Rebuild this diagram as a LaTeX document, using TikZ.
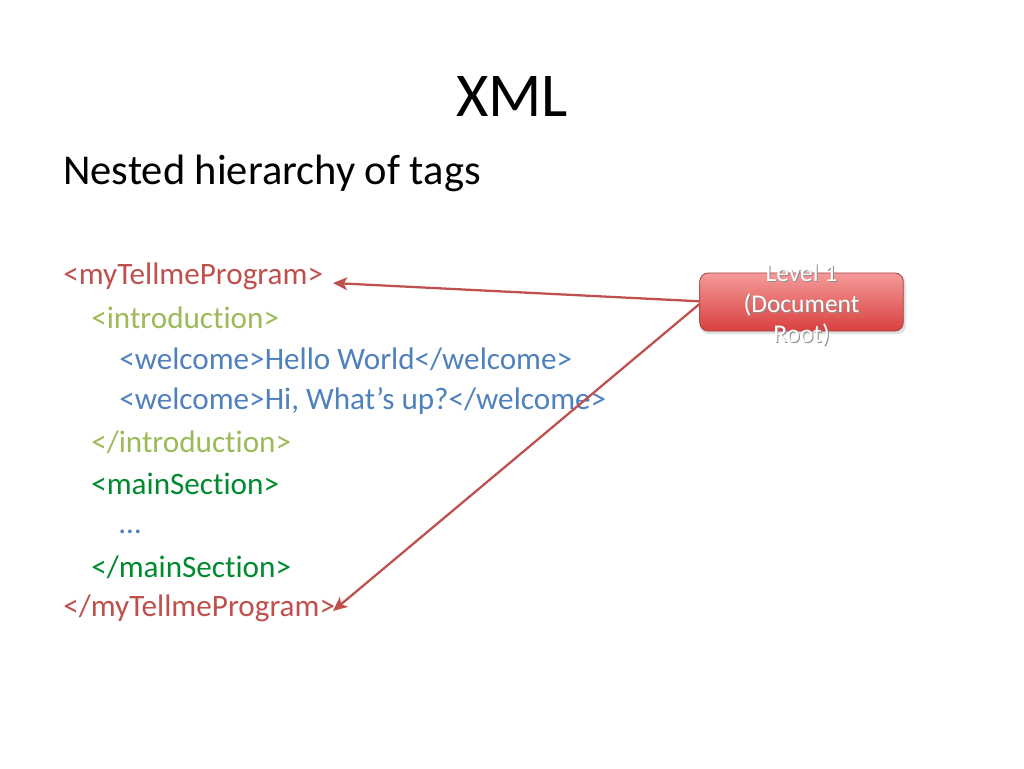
\documentclass[tikz,border=0pt]{standalone}
\usepackage{fontspec}
\setmainfont{Carlito}[Ligatures = NoCommon]
\usepackage{xcolor}
\usepackage{tikz}
\usetikzlibrary{arrows.meta}
\definecolor{tagRed}{HTML}{C0504D}
\definecolor{tagOlive}{HTML}{9BBB59}
\definecolor{tagBlue}{HTML}{4F81BD}
\definecolor{tagGreen}{HTML}{008A2E}
\definecolor{boxTop}{HTML}{F49B9A}
\definecolor{boxBottom}{HTML}{D8403E}
\newcommand{\codeLine}[5]{
	\node[anchor = west, inner sep = 0pt, text = #2, font = \fontsize{22}{27}\selectfont] (#1) at (#3, #4) {#5};
}
\tikzset{
	pointer/.style = {draw = tagRed, line width = 1.6pt, -{Stealth[length = 10pt, width = 9pt, inset = 2.5pt]}},
	boxText/.style = {align = center, font = \fontsize{18}{21.6}\selectfont},
}
\begin{document}
\begin{tikzpicture}[x = 0.024805cm, y = -0.024805cm]%
		\fill[white] (0, 0) rectangle (1024, 768);

		\node (title) at (512, 97) {\fontsize{44}{53}\selectfont XML};
		\node[anchor = west, inner sep = 0pt] (subtitle) at (63, 173) {\fontsize{30}{36}\selectfont Nested hierarchy of tags};

		% root
		\codeLine{progOpen}{tagRed}{63}{276}{<myTellmeProgram>}
		% introduction
		\codeLine{introOpen}{tagOlive}{91}{318}{<introduction>}
		\codeLine{welcomeA}{tagBlue}{119}{359}{<welcome>Hello World</welcome>}
		\codeLine{welcomeB}{tagBlue}{119}{401}{<welcome>Hi, What’s up?</welcome>}
		\codeLine{introClose}{tagOlive}{91}{442}{</introduction>}
		% main section
		\codeLine{mainOpen}{tagGreen}{91}{484}{<mainSection>}
		\codeLine{dots}{tagBlue}{119}{532}{…}
		\codeLine{mainClose}{tagGreen}{91}{567}{</mainSection>}
		\codeLine{progClose}{tagRed}{63}{608}{</myTellmeProgram>}

		% label box, text runs over its edges
		\fill[black!12, rounded corners = 6pt] (700, 275) rectangle (906, 334);
		\node[draw = tagRed!85!black, line width = 0.6pt, rounded corners = 6pt, top color = boxTop, bottom color = boxBottom,
			minimum width = 5.05cm, minimum height = 1.44cm] (root) at (801.5, 302) {};
		\node[boxText, text = black!45] (rootShadow) at (802.5, 306) {Level 1\\(Document\\Root)};
		\node[boxText, text = white] (rootLabel) at (801.5, 305) {Level 1\\(Document\\Root)};

		\coordinate (progOpenTip) at (333, 283);
		\coordinate (progCloseTip) at (333, 611);
		\draw[pointer] ([yshift = 0.5pt]root.west) -- (progOpenTip);
		\draw[pointer] ([yshift = -1.5pt]root.west) -- (progCloseTip);
	\end{tikzpicture}
\end{document}
